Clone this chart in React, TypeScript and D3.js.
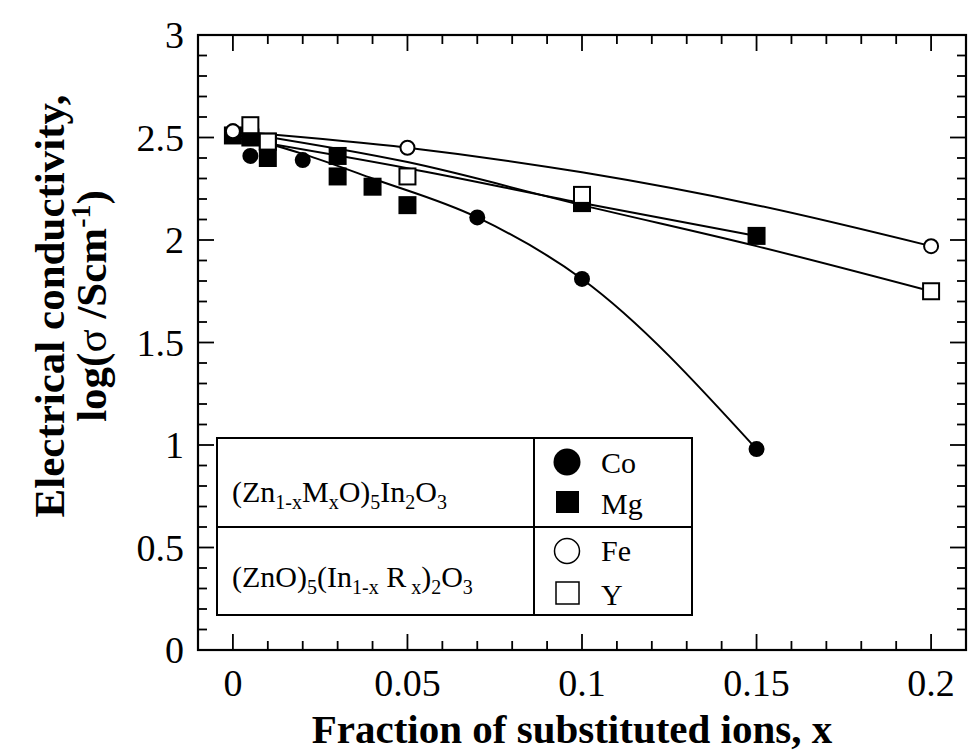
import React from 'react';
import * as d3 from 'd3';

// measured points (x = fraction, y = log conductivity)
const coPts: [number, number][] = [[0, 2.53], [0.005, 2.41], [0.02, 2.39], [0.07, 2.11], [0.1, 1.81], [0.15, 0.98]];
const mgPts: [number, number][] = [[0, 2.51], [0.005, 2.5], [0.01, 2.48], [0.01, 2.4], [0.03, 2.41], [0.03, 2.31], [0.04, 2.26], [0.05, 2.17], [0.1, 2.18], [0.15, 2.02]];
const fePts: [number, number][] = [[0, 2.53], [0.05, 2.45], [0.2, 1.97]];
const yPts: [number, number][] = [[0.005, 2.56], [0.01, 2.48], [0.05, 2.31], [0.1, 2.22], [0.2, 1.75]];

// guide curves
const coFit: [number, number][] = [[0, 2.52], [0.02, 2.42], [0.04, 2.3], [0.07, 2.11], [0.1, 1.81], [0.15, 0.98]];
const mgFit: [number, number][] = [[0, 2.5], [0.05, 2.35], [0.1, 2.18], [0.15, 2.02]];
const feFit: [number, number][] = [[0, 2.53], [0.05, 2.45], [0.1, 2.33], [0.15, 2.17], [0.2, 1.97]];
const yFit: [number, number][] = [[0, 2.53], [0.05, 2.38], [0.1, 2.17], [0.15, 1.97], [0.2, 1.75]];

const xMajor = [0, 0.05, 0.1, 0.15, 0.2];
const xLabels = ['0', '0.05', '0.1', '0.15', '0.2'];
const yMajor = [0, 0.5, 1, 1.5, 2, 2.5, 3];
const yLabels = ['0', '0.5', '1', '1.5', '2', '2.5', '3'];

const W = 968, H = 754;
const L = 198, R = 966, T = 35, B = 650;
const serif = "'Liberation Serif', 'Times New Roman', serif";

export default function App() {
  const x = d3.scaleLinear().domain([-0.01, 0.21]).range([L, R]);
  const y = d3.scaleLinear().domain([0, 3]).range([B, T]);

  const xMinor = d3.range(-1, 22).map(i => i / 100).filter(v => Math.abs(v * 20 - Math.round(v * 20)) > 1e-6);
  const yMinor = d3.range(0, 31).map(i => i / 10).filter(v => Math.abs(v * 2 - Math.round(v * 2)) > 1e-6);

  const line = d3.line<[number, number]>().x(d => x(d[0])).y(d => y(d[1])).curve(d3.curveMonotoneX);

  const tick = { stroke: '#000', strokeWidth: 1.8 };
  const sub = { fontSize: 20 };

  return (
    <svg width={W} height={H} style={{ position: 'absolute', left: 0, top: 0, background: '#fff' }}>
      {/* ticks, all pointing inward */}
      {xMajor.map(v => (
        <g key={'xM' + v}>
          <line x1={x(v)} x2={x(v)} y1={B} y2={B - 16} {...tick} />
          <line x1={x(v)} x2={x(v)} y1={T} y2={T + 16} {...tick} />
        </g>
      ))}
      {xMinor.map(v => (
        <g key={'xm' + v}>
          <line x1={x(v)} x2={x(v)} y1={B} y2={B - 9} {...tick} />
          <line x1={x(v)} x2={x(v)} y1={T} y2={T + 9} {...tick} />
        </g>
      ))}
      {yMajor.map(v => (
        <g key={'yM' + v}>
          <line x1={L} x2={L + 16} y1={y(v)} y2={y(v)} {...tick} />
          <line x1={R} x2={R - 16} y1={y(v)} y2={y(v)} {...tick} />
        </g>
      ))}
      {yMinor.map(v => (
        <g key={'ym' + v}>
          <line x1={L} x2={L + 9} y1={y(v)} y2={y(v)} {...tick} />
          <line x1={R} x2={R - 9} y1={y(v)} y2={y(v)} {...tick} />
        </g>
      ))}
      <rect x={L} y={T} width={R - L} height={B - T} fill="none" stroke="#000" strokeWidth={2.2} />

      {/* tick labels */}
      {xMajor.map((v, i) => (
        <text key={'xl' + v} x={x(v)} y={696} textAnchor="middle" fontFamily={serif} fontSize={38}>{xLabels[i]}</text>
      ))}
      {yMajor.map((v, i) => (
        <text key={'yl' + v} x={184} y={y(v) + 13} textAnchor="end" fontFamily={serif} fontSize={38}>{yLabels[i]}</text>
      ))}

      {/* axis titles */}
      <text x={572} y={743} textAnchor="middle" fontFamily={serif} fontSize={41} fontWeight="bold">Fraction of substituted ions, x</text>
      <text transform="translate(64,306) rotate(-90)" textAnchor="middle" fontFamily={serif} fontSize={43} fontWeight="bold">Electrical conductivity,</text>
      <text transform="translate(106,306) rotate(-90)" textAnchor="middle" fontFamily={serif} fontSize={43} fontWeight="bold">
        log(<tspan fontWeight="normal">σ</tspan> /Scm<tspan dy={-16} fontSize={28}>-1</tspan><tspan dy={16}>)</tspan>
      </text>

      {/* guide curves */}
      {[coFit, mgFit, feFit, yFit].map((d, i) => (
        <path key={'fit' + i} d={line(d) || ''} fill="none" stroke="#000" strokeWidth={2} />
      ))}

      {/* markers */}
      {mgPts.map((d, i) => (
        <rect key={'mg' + i} x={x(d[0]) - 9} y={y(d[1]) - 9} width={18} height={18} fill="#000" />
      ))}
      {coPts.map((d, i) => (
        <circle key={'co' + i} cx={x(d[0])} cy={y(d[1])} r={8} fill="#000" />
      ))}
      {fePts.map((d, i) => (
        <circle key={'fe' + i} cx={x(d[0])} cy={y(d[1])} r={7} fill="#fff" stroke="#000" strokeWidth={2} />
      ))}
      {yPts.map((d, i) => (
        <rect key={'y' + i} x={x(d[0]) - 8} y={y(d[1]) - 8} width={16} height={16} fill="#fff" stroke="#000" strokeWidth={2} />
      ))}

      {/* legend table */}
      <g fontFamily={serif} fontSize={30}>
        <rect x={217} y={438} width={475} height={177} fill="#fff" stroke="#000" strokeWidth={2} />
        <line x1={217} x2={692} y1={527} y2={527} stroke="#000" strokeWidth={2} />
        <line x1={534} x2={534} y1={438} y2={615} stroke="#000" strokeWidth={2} />

        <text x={232} y={502}>
          (Zn<tspan dy={7} {...sub}>1-x</tspan><tspan dy={-7}>M</tspan><tspan dy={7} {...sub}>x</tspan><tspan dy={-7}>O)</tspan><tspan dy={7} {...sub}>5</tspan><tspan dy={-7}>In</tspan><tspan dy={7} {...sub}>2</tspan><tspan dy={-7}>O</tspan><tspan dy={7} {...sub}>3</tspan>
        </text>
        <text x={232} y={587}>
          (ZnO)<tspan dy={7} {...sub}>5</tspan><tspan dy={-7}>(In</tspan><tspan dy={7} {...sub}>1-x</tspan><tspan dy={-7}> R</tspan><tspan dy={7} {...sub}> x</tspan><tspan dy={-7}>)</tspan><tspan dy={7} {...sub}>2</tspan><tspan dy={-7}>O</tspan><tspan dy={7} {...sub}>3</tspan>
        </text>

        <circle cx={567} cy={462} r={13.5} fill="#000" />
        <text x={601} y={473}>Co</text>
        <rect x={556} y={491} width={23} height={22} fill="#000" />
        <text x={601} y={514}>Mg</text>
        <circle cx={567} cy={551} r={12.5} fill="#fff" stroke="#000" strokeWidth={1.5} />
        <text x={601} y={561}>Fe</text>
        <rect x={556} y={582} width={23} height={22} fill="#fff" stroke="#000" strokeWidth={1.5} />
        <text x={601} y={605}>Y</text>
      </g>
    </svg>
  );
}
